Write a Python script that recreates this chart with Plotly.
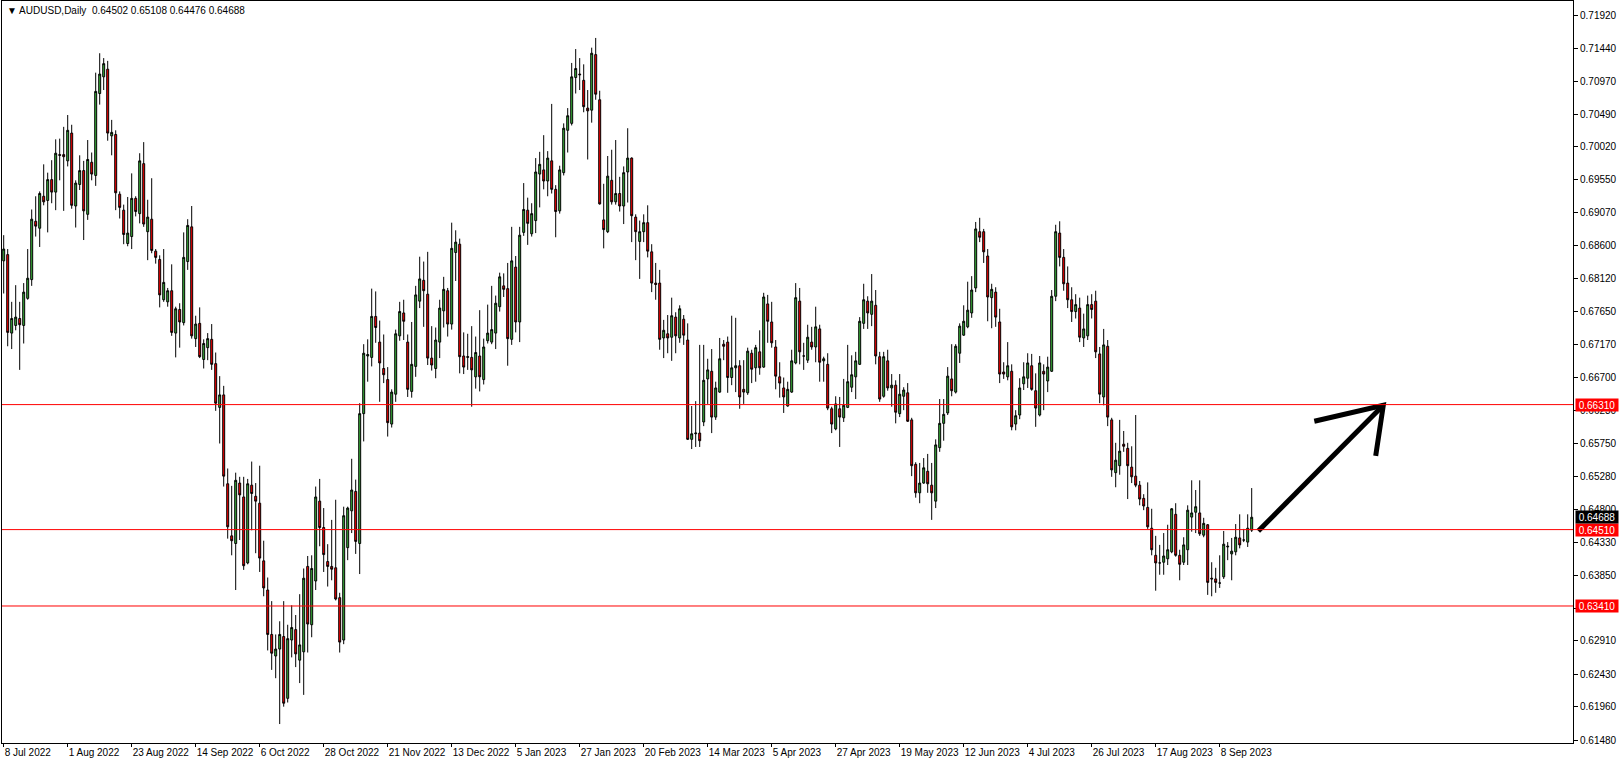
import pandas as pd
import plotly.graph_objects as go

# ---------------- data ----------------
days = pd.bdate_range("2022-07-08", "2023-09-20")
dates = [d for d in days if d != pd.Timestamp("2022-12-26")]

opens = [
0.6838,0.6847,0.6734,0.6745,0.6755,0.6745,0.6784,0.6811,0.6895,0.6885,
0.6931,0.6925,0.6955,0.6937,0.6991,0.6991,0.6982,0.7022,0.6917,0.6948,
0.6968,0.6905,0.6980,0.6961,0.7079,0.7103,0.7114,0.7018,0.7020,0.6934,
0.6911,0.6863,0.6873,0.6928,0.6906,0.6978,0.6880,0.6898,0.6852,0.6840,
0.6782,0.6779,0.6795,0.6734,0.6768,0.6749,0.6837,0.6887,0.6726,0.6748,
0.6696,0.6713,0.6725,0.6690,0.6627,0.6645,0.6517,0.6442,0.6431,0.6518,
0.6498,0.6403,0.6515,0.6499,0.6489,0.6406,0.6364,0.6300,0.6269,0.6279,
0.6297,0.6208,0.6292,0.6307,0.6263,0.6275,0.6398,0.6314,0.6377,0.6492,
0.6454,0.6405,0.6398,0.6396,0.6353,0.6292,0.6425,0.6478,0.6506,0.6431,
0.6618,0.6701,0.6699,0.6758,0.6721,0.6683,0.6667,0.6603,0.6646,0.6730,
0.6763,0.6721,0.6650,0.6686,0.6780,0.6810,0.6790,0.6698,0.6683,0.6721,
0.6766,0.6795,0.6747,0.6850,0.6862,0.6701,0.6699,0.6699,0.6671,0.6701,
0.6667,0.6723,0.6721,0.6734,0.6772,0.6802,0.6798,0.6725,0.6829,0.6750,
0.6879,0.6911,0.6877,0.6896,0.6963,0.6969,0.6953,0.6982,0.6941,0.6910,
0.6965,0.7026,0.7036,0.7102,0.7107,0.7098,0.7058,0.7055,0.7135,0.7070,
0.6897,0.6880,0.6954,0.6923,0.6935,0.6917,0.6966,0.6986,0.6901,0.6866,
0.6880,0.6893,0.6851,0.6806,0.6806,0.6727,0.6733,0.6728,0.6757,0.6727,
0.6754,0.6724,0.6581,0.6589,0.6590,0.6606,0.6668,0.6679,0.6613,0.6649,
0.6718,0.6721,0.6670,0.6684,0.6687,0.6653,0.6648,0.6705,0.6684,0.6707,
0.6685,0.6776,0.6750,0.6714,0.6671,0.6655,0.6629,0.6649,0.6691,0.6780,
0.6701,0.6695,0.6721,0.6714,0.6740,0.6694,0.6689,0.6625,0.6596,0.6625,
0.6612,0.6627,0.6656,0.6671,0.6689,0.6748,0.6780,0.6761,0.6774,0.6700,
0.6643,0.6694,0.6655,0.6659,0.6618,0.6643,0.6648,0.6609,0.6545,0.6504,
0.6518,0.6535,0.6515,0.6492,0.6569,0.6604,0.6619,0.6668,0.6649,0.6705,
0.6731,0.6743,0.6763,0.6799,0.6880,0.6880,0.6845,0.6785,0.6793,0.6750,
0.6678,0.6671,0.6679,0.6603,0.6616,0.6661,0.6669,0.6687,0.6651,0.6616,
0.6679,0.6665,0.6679,0.6787,0.6878,0.6843,0.6806,0.6782,0.6765,0.6770,
0.6727,0.6730,0.6775,0.6780,0.6704,0.6642,0.6715,0.6609,0.6533,0.6543,
0.6574,0.6568,0.6541,0.6528,0.6515,0.6496,0.6483,0.6453,0.6414,0.6403,
0.6404,0.6409,0.6419,0.6473,0.6414,0.6404,0.6422,0.6469,0.6476,0.6475,
0.6443,0.6458,0.6381,0.6380,0.6374,0.6383,0.6426,0.6416,0.6419,0.6439,
0.6436,0.6433,0.64502]

highs = [
0.6875,0.6855,0.6779,0.6803,0.6779,0.6806,0.6855,0.6912,0.6931,0.6938,
0.6977,0.6965,0.6983,0.7013,0.7014,0.7031,0.7048,0.7034,0.6954,0.6990,
0.6982,0.7012,0.6994,0.7109,0.7137,0.7130,0.7126,0.7041,0.7026,0.6938,
0.6919,0.6930,0.6964,0.6931,0.6993,0.7009,0.6926,0.6957,0.6855,0.6846,
0.6855,0.6799,0.6833,0.6772,0.6777,0.6879,0.6898,0.6917,0.6759,0.6771,
0.6725,0.6734,0.6747,0.6706,0.6672,0.6658,0.6539,0.6514,0.6533,0.6527,
0.6527,0.6524,0.6549,0.6518,0.6543,0.6435,0.6382,0.6348,0.6300,0.6319,
0.6348,0.6314,0.6342,0.6328,0.6358,0.6395,0.6413,0.6414,0.6513,0.6524,
0.6482,0.6430,0.6465,0.6494,0.6360,0.6484,0.6484,0.6553,0.6523,0.6633,
0.6718,0.6725,0.6798,0.6794,0.6752,0.6732,0.6685,0.6653,0.6739,0.6779,
0.6782,0.6732,0.6750,0.6802,0.6844,0.6837,0.6851,0.6744,0.6742,0.6782,
0.6815,0.6799,0.6893,0.6882,0.6870,0.6735,0.6733,0.6744,0.6729,0.6767,
0.6726,0.6775,0.6802,0.6788,0.6821,0.6820,0.6835,0.6887,0.6845,0.6887,
0.6950,0.6929,0.6921,0.6986,0.6995,0.7019,0.6996,0.7064,0.6947,0.6975,
0.7036,0.7058,0.7123,0.7143,0.7130,0.7121,0.7084,0.7145,0.7159,0.7083,
0.6949,0.6989,0.6998,0.7012,0.6959,0.6974,0.7029,0.6987,0.6905,0.6896,
0.6905,0.6918,0.6862,0.6835,0.6825,0.6753,0.6760,0.6785,0.6764,0.6774,
0.6760,0.6748,0.6629,0.6636,0.6717,0.6717,0.6697,0.6711,0.6664,0.6727,
0.6724,0.6729,0.6759,0.6756,0.6695,0.6695,0.6713,0.6710,0.6717,0.6738,
0.6792,0.6789,0.6779,0.6724,0.6692,0.6670,0.6664,0.6710,0.6806,0.6799,
0.6720,0.6746,0.6743,0.6772,0.6746,0.6700,0.6705,0.6628,0.6643,0.6642,
0.6668,0.6717,0.6702,0.6707,0.6757,0.6805,0.6787,0.6819,0.6796,0.6707,
0.6707,0.6710,0.6675,0.6666,0.6675,0.6656,0.6662,0.6612,0.6548,0.6547,
0.6554,0.6560,0.6547,0.6581,0.6639,0.6639,0.6685,0.6718,0.6718,0.6748,
0.6774,0.6808,0.6816,0.6894,0.6900,0.6884,0.6855,0.6805,0.6800,0.6769,
0.6692,0.6721,0.6689,0.6623,0.6669,0.6692,0.6705,0.6704,0.6676,0.6701,
0.6689,0.6700,0.6796,0.6890,0.6895,0.6855,0.6830,0.6800,0.6790,0.6785,
0.6762,0.6788,0.6790,0.6795,0.6714,0.6740,0.6724,0.6612,0.6576,0.6609,
0.6593,0.6576,0.6571,0.6616,0.6521,0.6502,0.6519,0.6481,0.6442,0.6429,
0.6446,0.6458,0.6482,0.6489,0.6422,0.6440,0.6486,0.6522,0.6508,0.6522,
0.6468,0.6459,0.6404,0.6396,0.6414,0.6449,0.6433,0.6439,0.6459,0.6473,
0.6452,0.6473,0.65108]

lows = [
0.6791,0.6715,0.6711,0.6738,0.6681,0.6719,0.6782,0.6802,0.6873,0.6858,
0.6918,0.6879,0.6921,0.6911,0.6954,0.6910,0.6974,0.6913,0.6886,0.6940,
0.6868,0.6897,0.6954,0.6946,0.7063,0.7084,0.7011,0.6990,0.6911,0.6899,
0.6862,0.6859,0.6855,0.6902,0.6892,0.6887,0.6839,0.6849,0.6834,0.6771,
0.6779,0.6772,0.6730,0.6699,0.6713,0.6745,0.6825,0.6726,0.6714,0.6698,
0.6683,0.6695,0.6681,0.6622,0.6575,0.6513,0.6438,0.6414,0.6364,0.6436,
0.6393,0.6401,0.6450,0.6417,0.6390,0.6355,0.6277,0.6249,0.6237,0.6171,
0.6196,0.6202,0.6267,0.6253,0.6230,0.6213,0.6274,0.6296,0.6364,0.6427,
0.6390,0.6369,0.6378,0.6349,0.6274,0.6286,0.6407,0.6446,0.6416,0.6387,
0.6578,0.6664,0.6686,0.6720,0.6635,0.6662,0.6585,0.6598,0.6635,0.6723,
0.6724,0.6642,0.6641,0.6671,0.6770,0.6743,0.6688,0.6680,0.6669,0.6698,
0.6742,0.6729,0.6739,0.6809,0.6676,0.6675,0.6681,0.6628,0.6654,0.6650,
0.6660,0.6719,0.6718,0.6711,0.6765,0.6786,0.6687,0.6717,0.6735,0.6721,
0.6874,0.6861,0.6873,0.6878,0.6915,0.6941,0.6931,0.6935,0.6872,0.6906,
0.6961,0.6994,0.7033,0.7079,0.7084,0.7052,0.6984,0.7037,0.7070,0.6919,
0.6856,0.6878,0.6919,0.6919,0.6909,0.6891,0.6922,0.6865,0.6839,0.6812,
0.6865,0.6843,0.6793,0.6782,0.6710,0.6698,0.6705,0.6694,0.6705,0.6720,
0.6717,0.6580,0.6567,0.6570,0.6570,0.6600,0.6632,0.6590,0.6609,0.6648,
0.6695,0.6648,0.6659,0.6649,0.6625,0.6632,0.6645,0.6662,0.6664,0.6674,
0.6684,0.6720,0.6713,0.6653,0.6641,0.6619,0.6628,0.6648,0.6689,0.6689,
0.6681,0.6691,0.6710,0.6692,0.6664,0.6664,0.6623,0.6590,0.6594,0.6570,
0.6606,0.6626,0.6649,0.6639,0.6688,0.6740,0.6740,0.6744,0.6689,0.6635,
0.6641,0.6651,0.6628,0.6604,0.6613,0.6623,0.6606,0.6528,0.6497,0.6489,
0.6517,0.6504,0.6465,0.6482,0.6563,0.6579,0.6616,0.6643,0.6647,0.6691,
0.6730,0.6741,0.6756,0.6793,0.6865,0.6835,0.6751,0.6741,0.6743,0.6662,
0.6668,0.6666,0.6594,0.6594,0.6610,0.6652,0.6655,0.6651,0.6599,0.6614,
0.6623,0.6649,0.6678,0.6780,0.6830,0.6795,0.6770,0.6750,0.6755,0.6721,
0.6714,0.6724,0.6755,0.6698,0.6633,0.6630,0.6600,0.6527,0.6512,0.6530,
0.6563,0.6495,0.6518,0.6512,0.6486,0.6479,0.6452,0.6414,0.6363,0.6386,
0.6386,0.6400,0.6417,0.6412,0.6378,0.6400,0.6400,0.6448,0.6446,0.6442,
0.6440,0.6357,0.6355,0.6360,0.6367,0.6380,0.6407,0.6378,0.6414,0.6424,
0.6433,0.6426,0.64476]

closes = [
0.6855,0.6735,0.6755,0.6757,0.6746,0.6793,0.6813,0.6898,0.6888,0.6935,
0.6923,0.6955,0.6937,0.6993,0.6990,0.6988,0.7026,0.6918,0.6950,0.6968,
0.6910,0.6984,0.6963,0.7082,0.7107,0.7122,0.7022,0.7023,0.6936,0.6915,
0.6876,0.6878,0.6928,0.6909,0.6982,0.6891,0.6901,0.6853,0.6843,0.6789,
0.6807,0.6795,0.6735,0.6769,0.6750,0.6843,0.6889,0.6730,0.6747,0.6700,
0.6719,0.6726,0.6689,0.6633,0.6645,0.6528,0.6455,0.6435,0.6522,0.6501,
0.6399,0.6517,0.6503,0.6492,0.6410,0.6367,0.6300,0.6273,0.6279,0.6300,
0.6201,0.6294,0.6310,0.6272,0.6285,0.6381,0.6315,0.6395,0.6498,0.6454,
0.6415,0.6398,0.6394,0.6351,0.6289,0.6471,0.6482,0.6508,0.6434,0.6618,
0.6705,0.6703,0.6758,0.6742,0.6691,0.6674,0.6605,0.6649,0.6733,0.6765,
0.6751,0.6653,0.6689,0.6789,0.6812,0.6795,0.6698,0.6688,0.6724,0.6770,
0.6797,0.6747,0.6856,0.6865,0.6700,0.6685,0.6700,0.6681,0.6706,0.6671,
0.6714,0.6734,0.6739,0.6777,0.6815,0.6797,0.6726,0.6838,0.6750,0.6875,
0.6912,0.6892,0.6906,0.6966,0.6977,0.6953,0.6986,0.6941,0.6909,0.6969,
0.7029,0.7047,0.7103,0.7115,0.7106,0.7060,0.7054,0.7137,0.7078,0.6920,
0.6883,0.6960,0.6923,0.6935,0.6917,0.6965,0.6986,0.6903,0.6880,0.6880,
0.6893,0.6852,0.6806,0.6804,0.6725,0.6738,0.6727,0.6759,0.6730,0.6769,
0.6731,0.6581,0.6589,0.6590,0.6579,0.6666,0.6681,0.6613,0.6655,0.6697,
0.6715,0.6670,0.6684,0.6687,0.6642,0.6649,0.6708,0.6682,0.6713,0.6684,
0.6786,0.6751,0.6720,0.6672,0.6662,0.6642,0.6653,0.6694,0.6785,0.6707,
0.6701,0.6728,0.6714,0.6743,0.6692,0.6697,0.6626,0.6603,0.6632,0.6613,
0.6630,0.6664,0.6674,0.6694,0.6751,0.6782,0.6763,0.6780,0.6701,0.6639,
0.6700,0.6655,0.6659,0.6620,0.6646,0.6652,0.6607,0.6543,0.6504,0.6518,
0.6540,0.6517,0.6504,0.6573,0.6604,0.6617,0.6672,0.6651,0.6715,0.6744,
0.6751,0.6767,0.6796,0.6884,0.6872,0.6851,0.6786,0.6797,0.6757,0.6675,
0.6675,0.6687,0.6599,0.6615,0.6655,0.6671,0.6691,0.6653,0.6626,0.6691,
0.6675,0.6685,0.6787,0.6880,0.6843,0.6805,0.6782,0.6765,0.6775,0.6728,
0.6740,0.6775,0.6768,0.6707,0.6646,0.6717,0.6613,0.6537,0.6551,0.6564,
0.6571,0.6543,0.6527,0.6515,0.6495,0.6485,0.6455,0.6422,0.6403,0.6403,
0.6413,0.6422,0.6481,0.6414,0.6401,0.6429,0.6479,0.6475,0.6484,0.6445,
0.6460,0.6375,0.6380,0.6375,0.6374,0.6430,0.6427,0.6420,0.6440,0.6429,
0.6436,0.6453,0.64688]

symbol = "AUDUSD,Daily"
level_prices = [0.66310, 0.64510, 0.63410]
y_tick_values = [0.71920, 0.71440, 0.70970, 0.70490, 0.70020, 0.69550, 0.69070,
                 0.68600, 0.68120, 0.67650, 0.67170, 0.66700, 0.66230, 0.65750,
                 0.65280, 0.64800, 0.64330, 0.63850, 0.63380, 0.62910, 0.62430,
                 0.61960, 0.61480]
label_every = 16
# hand-drawn arrow (bar index, price)
arrow_shaft_x = [313.65, 344.9]
arrow_shaft_y = [0.6449, 0.6630]
arrow_head_x = [327.65, 344.9, 343.0]
arrow_head_y = [0.6607, 0.6630, 0.6557]

# ---------------- figure ----------------
n = min(len(dates), len(opens))
xs = list(range(n))

BULL = "#3CB43C"
BEAR = "#FF0000"
FONT = "Liberation Sans, Arial, DejaVu Sans, sans-serif"

fig = go.Figure()
fig.add_trace(go.Candlestick(
    x=xs, open=opens[:n], high=highs[:n], low=lows[:n], close=closes[:n],
    increasing=dict(line=dict(color="black", width=1), fillcolor=BULL),
    decreasing=dict(line=dict(color="black", width=1), fillcolor=BEAR),
    whiskerwidth=0, showlegend=False, hoverinfo="skip",
))

# arrow
fig.add_trace(go.Scatter(
    x=arrow_shaft_x + [None] + arrow_head_x,
    y=arrow_shaft_y + [None] + arrow_head_y,
    mode="lines", line=dict(color="black", width=5),
    showlegend=False, hoverinfo="skip", connectgaps=False,
))

for p in level_prices:
    fig.add_shape(type="line", xref="paper", x0=0, x1=1, yref="y", y0=p, y1=p,
                  line=dict(color="#FF0000", width=1), layer="above")

tick_idx = list(range(0, n, label_every))
tick_txt = [f"{dates[i].day} {dates[i].strftime('%b %Y')}" for i in tick_idx]

W, H = 1620, 764
ml, mr, mt, mb = 2, 47, 1, 21
plot_w = W - ml - mr
px_per_bar = 4.0
x0 = -1.7 / px_per_bar
x1 = x0 + plot_w / px_per_bar

ann = []
ann.append(dict(xref="paper", yref="paper", x=0.002, y=1 - 9.5 / (H - mt - mb),
                xanchor="left", yanchor="middle", showarrow=False,
                text=f"\u25BC {symbol}\u00a0\u00a0{opens[n-1]:.5f} {highs[n-1]:.5f} {lows[n-1]:.5f} {closes[n-1]:.5f}",
                font=dict(family=FONT, size=10, color="black")))
tag_x = 1 + 2.0 / plot_w
for p in level_prices:
    ann.append(dict(xref="paper", yref="y", x=tag_x, y=p, xanchor="left", yanchor="middle",
                    showarrow=False, text=f"{p:.5f}", bgcolor="#FF0000", width=40, height=10,
                    borderpad=1, font=dict(family=FONT, size=10, color="white")))
ann.append(dict(xref="paper", yref="y", x=tag_x, y=closes[n-1], xanchor="left", yanchor="middle",
                showarrow=False, text=f"{closes[n-1]:.5f}", bgcolor="black", width=40, height=10,
                borderpad=1, font=dict(family=FONT, size=10, color="white")))

fig.update_layout(
    width=W, height=H,
    margin=dict(l=ml, r=mr, t=mt, b=mb, pad=0),
    paper_bgcolor="white", plot_bgcolor="white",
    annotations=ann,
    showlegend=False,
    xaxis=dict(
        range=[x0, x1], rangeslider=dict(visible=False),
        tickvals=tick_idx, ticktext=tick_txt, ticks="outside", ticklen=3,
        tickangle=0, tickcolor="black", ticklabelposition="outside right",
        tickfont=dict(family=FONT, size=10, color="black"),
        showgrid=False, zeroline=False, showline=True, linecolor="black",
        linewidth=1, mirror=True, fixedrange=True,
    ),
    yaxis=dict(
        range=[0.61437, 0.72122], side="right",
        tickvals=y_tick_values, tickformat=".5f", ticks="outside", ticklen=4,
        tickcolor="black", tickfont=dict(family=FONT, size=10, color="black"),
        showgrid=False, zeroline=False, showline=True, linecolor="black",
        linewidth=1, mirror=True, fixedrange=True,
    ),
)

fig.write_html("out.html", config={"displayModeBar": False},
               post_script="document.body.style.margin='0';document.body.style.overflow='hidden';")
